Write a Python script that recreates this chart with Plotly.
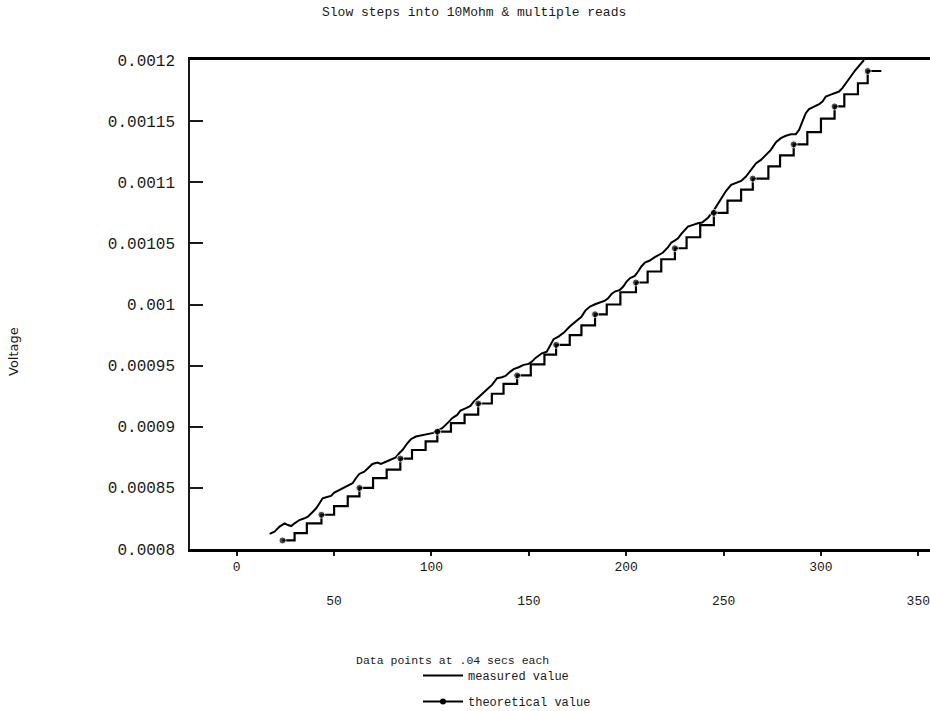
import plotly.graph_objects as go

# ---- data ----
meas_x = [16.9, 19.4, 22.0, 24.6, 26.3, 28.0, 29.7, 32.2, 34.8, 36.5, 39.1, 40.8, 42.5, 44.1,
          45.9, 48.4, 50.1, 52.7, 55.2, 57.8, 59.5, 61.2, 62.9, 65.5, 68.0, 69.7, 72.3, 74.0,
          76.6, 79.1, 81.7, 83.4, 85.1, 87.6, 89.4, 92, 95, 98, 101, 103,
          105.5, 109.0, 110.6, 113.2, 114.9, 117.5, 120.0, 121.7, 124.3, 126.9, 128.6, 131.1,
          133.7, 136.2, 138.0, 140.5, 142.2, 144.8, 147.3, 149.9, 151.6, 153.3, 155.0, 156.7,
          159.2, 161.0, 162.7, 165.2, 168, 171, 174, 177, 179,
          181.4, 184.0, 186.5, 189.1, 190.8, 192.5, 194.2, 196.8, 198.5, 200.2, 201.9, 204.4,
          206.1, 207.8, 209.6, 212.1, 214.7, 217.2, 218.9, 221.5, 223.2, 224.9, 226.6, 228.3,
          230.0, 231.7, 234.3, 236.8, 239.0, 242, 245, 248,
          251.3, 253.9, 256.4, 259.0, 261.5, 264.1, 266.7, 269.2, 271.8, 274.3, 276.9, 279.4,
          282.0, 284.6, 287.1, 288.8, 290.5, 292.2, 293.9, 296.5, 299.1, 300.8, 302.5, 304.7,
          306.7, 309.3, 311.0, 312.7, 315.3, 317.8, 320.4, 322.1]
meas_v = [0.0008123, 0.0008142, 0.0008183, 0.0008210, 0.0008196, 0.0008188, 0.0008210, 0.0008237,
          0.0008251, 0.0008264, 0.0008305, 0.0008333, 0.0008374, 0.0008415, 0.0008423, 0.0008434,
          0.0008461, 0.0008483, 0.0008505, 0.0008524, 0.0008538, 0.0008579, 0.0008614, 0.0008633,
          0.0008674, 0.0008696, 0.0008707, 0.0008696, 0.0008714, 0.0008734, 0.0008750, 0.0008783,
          0.0008810, 0.0008865, 0.0008898, 0.000892, 0.000893, 0.000894, 0.000895, 0.000897,
          0.0008988, 0.0009042, 0.0009070, 0.0009097, 0.0009132, 0.0009151, 0.0009170, 0.0009205,
          0.0009246, 0.0009287, 0.0009307, 0.0009342, 0.0009397, 0.0009405, 0.0009416, 0.0009451,
          0.0009471, 0.0009487, 0.0009506, 0.0009514, 0.0009533, 0.0009561, 0.0009579, 0.0009601,
          0.0009614, 0.0009669, 0.0009716, 0.0009737, 0.000977, 0.000982, 0.000986, 0.000990,
          0.000995,
          0.0009983, 0.0010002, 0.0010016, 0.0010032, 0.0010052, 0.0010087, 0.0010106, 0.0010120,
          0.0010147, 0.0010188, 0.0010215, 0.0010234, 0.0010270, 0.0010311, 0.0010343, 0.0010360,
          0.0010387, 0.0010406, 0.0010425, 0.0010469, 0.0010507, 0.0010523, 0.0010542, 0.0010578,
          0.0010610, 0.0010637, 0.0010651, 0.0010665, 0.0010670, 0.001071, 0.001077, 0.001085,
          0.0010930, 0.0010979, 0.0010993, 0.0011011, 0.0011047, 0.0011101, 0.0011156, 0.0011183,
          0.0011224, 0.0011265, 0.0011328, 0.0011361, 0.0011380, 0.0011393, 0.0011393, 0.0011429,
          0.0011497, 0.0011565, 0.0011598, 0.0011619, 0.0011639, 0.0011660, 0.0011701, 0.0011715,
          0.0011729, 0.0011742, 0.0011770, 0.0011811, 0.0011865, 0.0011920, 0.0011967, 0.0012000]

# theoretical value: start of each flat step and its level (last entry = end of final step)
theo_x = [23.5, 29.7, 36, 43.5, 50, 57, 63, 70, 77, 84, 90, 97, 103, 110, 117, 124, 131, 137,
          144, 151, 158, 164, 171, 177, 184, 190, 197, 205, 211, 218, 225, 231, 238, 245, 252,
          259, 265, 273, 279, 286, 293, 300, 307, 312, 319, 324, 331]
theo_v = [0.000807, 0.000813, 0.000821, 0.000828, 0.000835, 0.000843, 0.000850, 0.000858,
          0.000865, 0.000874, 0.000881, 0.000888, 0.000896, 0.000903, 0.000910, 0.000919,
          0.000927, 0.000935, 0.000942, 0.000951, 0.000959, 0.000967, 0.000975, 0.000983,
          0.000992, 0.001000, 0.001010, 0.001018, 0.001027, 0.001037, 0.001046, 0.001055,
          0.001065, 0.001075, 0.001085, 0.001094, 0.001103, 0.001113, 0.001122, 0.001131,
          0.001141, 0.001152, 0.001162, 0.001172, 0.001181, 0.001191, 0.001191]
theo_dot = [0, 3, 6, 9, 12, 15, 18, 21, 24, 27, 30, 33, 36, 39, 42, 45]

x_tickvals = [0, 50, 100, 150, 200, 250, 300, 350]
x_ticktext = ["0", "<br><br>50", "100", "<br><br>150", "200", "<br><br>250", "300", "<br><br>350"]
y_tickvals = [0.0008, 0.00085, 0.0009, 0.00095, 0.001, 0.00105, 0.0011, 0.00115, 0.0012]
y_ticktext = ["0.0008", "0.00085", "0.0009", "0.00095", "0.001", "0.00105", "0.0011",
              "0.00115", "0.0012"]

FONT = "Liberation Mono"
INK = "#1a1a1a"

dot_sizes = [7 if i in theo_dot else 0 for i in range(len(theo_x))]

fig = go.Figure()
fig.add_trace(go.Scatter(x=meas_x, y=meas_v, mode="lines", name="measured value",
                         line=dict(color="black", width=2), legendgroup="m"))
fig.add_trace(go.Scatter(x=theo_x, y=theo_v, mode="lines+markers", name="theoretical value",
                         line=dict(color="black", width=2.2, shape="hv"),
                         marker=dict(color="black", size=dot_sizes),
                         legendgroup="t", showlegend=False))
fig.add_trace(go.Scatter(x=[None], y=[None], mode="lines+markers", name="theoretical value",
                         line=dict(color="black", width=2),
                         marker=dict(color="black", size=6), legendgroup="t"))

fig.update_layout(
    width=930, height=711,
    margin=dict(l=190, r=0, t=60, b=162, autoexpand=False),
    paper_bgcolor="white", plot_bgcolor="white",
    font=dict(family=FONT, color=INK, size=14),
    showlegend=True,
    legend=dict(x=(418 - 190) / 740, y=-(661 - 549) / 489, xanchor="left", yanchor="top",
                orientation="v", font=dict(family=FONT, size=12, color=INK),
                tracegroupgap=7, itemwidth=40, bgcolor="rgba(0,0,0,0)"),
    annotations=[
        dict(text="Slow steps into 10Mohm & multiple reads", xref="paper", yref="paper",
             x=(474 - 190) / 740, y=1 + 47 / 489, showarrow=False,
             font=dict(family=FONT, size=13, color=INK), xanchor="center", yanchor="middle"),
        dict(text="Data points at .04 secs each", xref="paper", yref="paper",
             x=(452 - 190) / 740, y=-(660 - 549) / 489, showarrow=False,
             font=dict(family=FONT, size=11.5, color=INK), xanchor="center", yanchor="middle"),
        dict(text="Voltage", xref="paper", yref="paper", textangle=-90,
             x=(13 - 190) / 740, y=(549 - 352) / 489, showarrow=False,
             font=dict(family="DejaVu Sans", size=13, color=INK), xanchor="center",
             yanchor="middle"),
    ],
)
fig.update_xaxes(range=[-24, 356], tickvals=x_tickvals, ticktext=x_ticktext,
                 ticks="outside", ticklen=4, tickwidth=1.5, tickcolor=INK,
                 showline=True, linecolor="black", linewidth=2.5, mirror=True,
                 showgrid=False, zeroline=False, tickfont=dict(size=13), automargin=False,
                 ticklabeloverflow="allow")
fig.update_yaxes(range=[0.0008, 0.0012], tickvals=y_tickvals, ticktext=y_ticktext,
                 ticks="inside", ticklen=13, tickwidth=1.5, tickcolor=INK,
                 showline=True, linecolor=INK, linewidth=1.5, mirror=False,
                 showgrid=False, zeroline=False, tickfont=dict(size=16),
                 ticklabelstandoff=10, automargin=False)

# remove the browser's default page margin so the figure fills the window exactly
fig.write_html("out.html", config={"displayModeBar": False},
               post_script="document.body.style.margin='0';")
